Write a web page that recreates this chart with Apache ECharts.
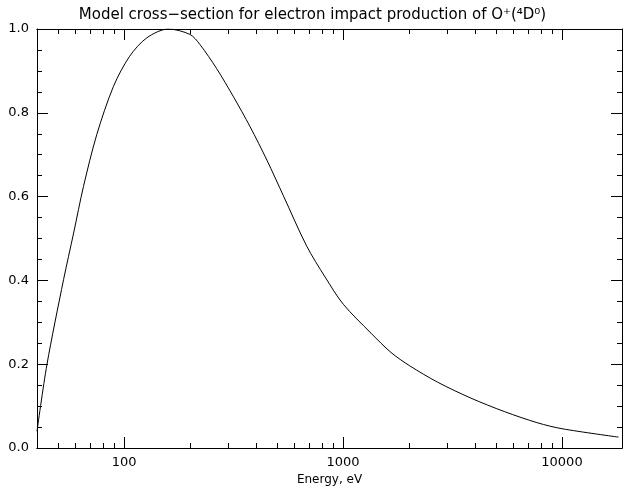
<!DOCTYPE html>
<html>
<head>
<meta charset="utf-8">
<script src="https://cdn.jsdelivr.net/npm/echarts@6/dist/echarts.min.js"></script>
<style>html,body{margin:0;background:#fff}#c{width:625px;height:496px}</style>
</head>
<body>
<div id="c"></div>
<script>
const energy = [40, 44.4, 52.9, 58.8, 65.2, 75, 89.4, 106, 127, 159, 200, 222, 265, 316, 376, 449, 534, 682, 828, 1003, 1342, 1656, 2018, 2705, 3838, 5452, 7748, 10000, 18100]
const crossSection = [0.04, 0.199, 0.402, 0.513, 0.624, 0.748, 0.863, 0.935, 0.979, 1.0, 0.987, 0.963, 0.905, 0.838, 0.767, 0.687, 0.602, 0.482, 0.408, 0.343, 0.274, 0.228, 0.196, 0.157, 0.119, 0.087, 0.060, 0.046, 0.026]
const majorX = [100, 1000, 10000]
const minorX = [40, 50, 60, 70, 80, 90, 200, 300, 400, 500, 600, 700, 800, 900,
  2000, 3000, 4000, 5000, 6000, 7000, 8000, 9000]

const font = 'DejaVu Sans'
const line = { show: true, lineStyle: { color: '#000', width: 1 } }
const xAx = (pos, ticks, len, labels) => ({
  type: 'log', min: 40, max: 18800, position: pos, logBase: 10,
  axisLine: line,
  splitLine: { show: false },
  axisTick: { show: true, inside: true, length: len, customValues: ticks, lineStyle: { color: '#000' } },
  axisLabel: { show: labels, customValues: ticks, color: '#000', fontFamily: font, fontSize: 13, formatter: v => String(v) },
  name: labels ? 'Energy, eV' : '', nameLocation: 'middle', nameGap: 24,
  nameTextStyle: { color: '#000', fontFamily: font, fontSize: 12 }
})
const yAx = (pos, labels) => ({
  type: 'value', min: 0, max: 1, interval: 0.2, position: pos,
  axisLine: line, splitLine: { show: false },
  axisTick: { show: true, inside: true, length: 11, lineStyle: { color: '#000' } },
  minorTick: { show: true, splitNumber: 4, length: 5, lineStyle: { color: '#000' } },
  axisLabel: { show: labels, color: '#000', fontFamily: font, fontSize: 13, formatter: v => v.toFixed(1) }
})

const chart = echarts.init(document.getElementById('c'))
chart.setOption({
  animation: false,
  title: {
    text: 'Model cross\u2212section for electron impact production of O\u207A(\u2074D\u2070)',
    left: 'center', top: 3,
    textStyle: { color: '#000', fontFamily: font, fontSize: 15, fontWeight: 'normal' }
  },
  grid: { left: 37, right: 3, top: 29, bottom: 48 },
  xAxis: [
    xAx('bottom', majorX, 11, true),
    xAx('bottom', minorX, 5, false),
    xAx('top', majorX, 11, false),
    xAx('top', minorX, 5, false)
  ],
  yAxis: [yAx('left', true), yAx('right', false)],
  series: [{
    type: 'line', smooth: 0.3, showSymbol: false,
    lineStyle: { color: '#000', width: 1 },
    data: energy.map((e, i) => [e, crossSection[i]])
  }]
})
</script>
</body>
</html>
